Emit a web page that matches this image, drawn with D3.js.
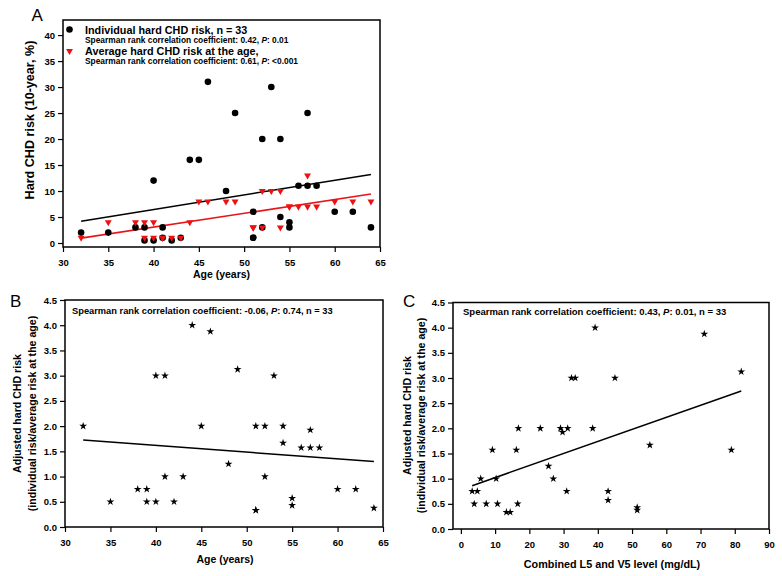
<!DOCTYPE html>
<html><head><meta charset="utf-8">
<script src="https://cdn.jsdelivr.net/npm/d3@7"></script>
<style>
body{margin:0;background:#fff}
text{font-family:"Liberation Sans",Arial,sans-serif}
</style>
</head><body>
<svg id="chart" width="782" height="576"></svg>
<script>
// ---- data (one entry per subject, n = 33) ----
const ages    = [32,35,38,39,39,40,40,41,41,42,43,44,45,46,48,49,51,51,51,52,52,53,54,54,55,55,56,57,57,58,60,62,64];
const risk    = [2,2,3,3,0.5,12,0.5,3,1,0.5,1,16,16,31,10,25,6,1,1,20,3,30,20,5,4,3,11,25,11,11,6,6,3];
const avgRisk = [1,4,4,4,1,4,1,1,1,1,1,4,8,8,8,8,3,3,3,10,3,10,10,3,7,7,7,13,7,7,8,8,8];
const l5v5    = [16.8,3.9,3.3,4.8,7.4,32.3,10.7,33.4,5.8,16.6,10.3,39.2,23.2,71.1,25.6,81.9,29.1,13.3,14.4,31.2,27.0,45.0,38.5,55.2,43.0,51.5,9.2,29.7,16.2,79.0,30.9,43.0,51.5];
const adjusted = risk.map((r,i)=> r/avgRisk[i]);

const ticksAX = [30,35,40,45,50,55,60,65];
const ticksAY = [0,5,10,15,20,25,30,35,40];
const ticksBX = [30,35,40,45,50,55,60,65];
const ticksRatio = [0,0.5,1,1.5,2,2.5,3,3.5,4,4.5];
const ticksCX = [0,10,20,30,40,50,60,70,80,90];

const legendA = [
  {label:"Individual hard CHD risk, n = 33", stat:["Spearman rank correlation coefficient: 0.42, ","P",": 0.01"]},
  {label:"Average hard CHD risk at the age,", stat:["Spearman rank correlation coefficient: 0.61, ","P",": <0.001"]}
];
const statB = ["Spearman rank correlation coefficient: -0.06, ","P",": 0.74, n = 33"];
const statC = ["Spearman rank correlation coefficient: 0.43, ","P",": 0.01, n = 33"];

// ---- helpers ----
const svg = d3.select("#chart");
function regress(xs, ys){
  const n=xs.length, mx=d3.mean(xs), my=d3.mean(ys);
  let sxy=0,sxx=0;
  for(let i=0;i<n;i++){sxy+=(xs[i]-mx)*(ys[i]-my);sxx+=(xs[i]-mx)**2;}
  const b=sxy/sxx, a=my-b*mx;
  const x0=d3.min(xs), x1=d3.max(xs);
  return [[x0,a+b*x0],[x1,a+b*x1]];
}
function panel(o){
  const x=d3.scaleLinear().domain(o.xDom).range([o.x0,o.x1]);
  const y=d3.scaleLinear().domain(o.yDom).range([o.y1,o.y0]);
  const g=svg.append("g");
  const ax=g.append("g").attr("transform",`translate(0,${o.y1})`)
    .call(d3.axisBottom(x).tickValues(o.xt).tickSize(5).tickPadding(7).tickFormat(o.xf||d3.format("d")));
  const ay=g.append("g").attr("transform",`translate(${o.x0},0)`)
    .call(d3.axisLeft(y).tickValues(o.yt).tickSize(5).tickPadding(3).tickFormat(o.yf||d3.format("d")));
  [ax,ay].forEach(a=>{
    a.select(".domain").remove();
    a.selectAll("line").attr("stroke","#000").attr("stroke-width",1.2);
    a.selectAll("text").attr("font-size","9.5px").attr("font-weight","bold").attr("fill","#000")
      .attr("font-family","'Liberation Sans',Arial,sans-serif");
  });
  g.append("rect").attr("x",o.x0).attr("y",o.y0).attr("width",o.x1-o.x0).attr("height",o.y1-o.y0)
    .attr("fill","none").attr("stroke","#000").attr("stroke-width",1.5);
  return {x,y,g};
}
function richText(sel, parts){
  parts.forEach((p,i)=>{ const t=sel.append("tspan").text(p); if(i===1) t.attr("font-style","italic"); });
}
function hTitle(x,y,txt,size){
  svg.append("text").attr("x",x).attr("y",y).attr("text-anchor","middle")
    .attr("font-size",size+"px").attr("font-weight","bold").text(txt);
}
function vTitle(x,y,txt,size){
  svg.append("text").attr("transform",`translate(${x},${y}) rotate(-90)`).attr("text-anchor","middle")
    .attr("font-size",size+"px").attr("font-weight","bold").text(txt);
}
const line = (P)=>d3.line().x(d=>P.x(d[0])).y(d=>P.y(d[1]));

// ---- Panel A ----
const A = panel({x0:63,x1:380,y0:20,y1:247,xDom:[30,65],yDom:[-0.77,42.9],xt:ticksAX,yt:ticksAY});
const tri = d3.symbol().type(d3.symbolTriangle).size(21);
A.g.append("path").attr("d",line(A)(regress(ages,risk))).attr("stroke","#000").attr("stroke-width",1.6).attr("fill","none");
A.g.append("path").attr("d",line(A)(regress(ages,avgRisk))).attr("stroke","#e8141a").attr("stroke-width",1.6).attr("fill","none");
A.g.selectAll("circle.ind").data(ages).join("circle").attr("class","ind")
  .attr("cx",(d)=>A.x(d)).attr("cy",(d,i)=>A.y(risk[i])).attr("r",3.3).attr("fill","#000");
A.g.selectAll("path.avg").data(ages).join("path").attr("class","avg")
  .attr("d",tri).attr("transform",(d,i)=>`translate(${A.x(d)},${A.y(avgRisk[i])}) rotate(180)`).attr("fill","#ee1111");
// legend
A.g.append("circle").attr("cx",69.5).attr("cy",29.5).attr("r",3.3).attr("fill","#000");
A.g.append("path").attr("d",tri).attr("transform","translate(69.5,51) rotate(180)").attr("fill","#ee1111");
[[34,legendA[0]],[55,legendA[1]]].forEach(([by,l])=>{
  A.g.append("text").attr("x",85).attr("y",by).attr("font-size","10.8px").attr("font-weight","bold").text(l.label);
  richText(A.g.append("text").attr("x",85).attr("y",by+9).attr("font-size","8.4px").attr("font-weight","bold"), l.stat);
});
hTitle(221.5,278,"Age (years)",10.5);
vTitle(34,120,"Hard CHD risk (10-year, %)",12.6);

// ---- Panel B ----
const B = panel({x0:65,x1:383,y0:300,y1:527,xDom:[30,65],yDom:[0,4.5],xt:ticksBX,yt:ticksRatio,yf:d3.format(".1f")});
const star = d3.symbol().type(d3.symbolStar).size(19);
B.g.append("path").attr("d",line(B)(regress(ages,adjusted))).attr("stroke","#000").attr("stroke-width",1.5).attr("fill","none");
B.g.selectAll("path.st").data(ages).join("path").attr("class","st").attr("d",star)
  .attr("transform",(d,i)=>`translate(${B.x(d)},${B.y(adjusted[i])})`).attr("fill","#000");
richText(B.g.append("text").attr("x",72).attr("y",313.5).attr("font-size","9.3px").attr("font-weight","bold"), statB);
hTitle(225,563,"Age (years)",10.5);
vTitle(21,413.5,"Adjusted hard CHD risk",10.6);
vTitle(35.5,413.5,"(individual risk/average risk at the age)",10.6);

// ---- Panel C ----
const C = panel({x0:453,x1:769,y0:302.5,y1:529,xDom:[-2.3,90],yDom:[0,4.5],xt:ticksCX,yt:ticksRatio,yf:d3.format(".1f")});
C.g.append("path").attr("d",line(C)(regress(l5v5,adjusted))).attr("stroke","#000").attr("stroke-width",1.5).attr("fill","none");
C.g.selectAll("path.st").data(l5v5).join("path").attr("class","st").attr("d",star)
  .attr("transform",(d,i)=>`translate(${C.x(d)},${C.y(adjusted[i])})`).attr("fill","#000");
richText(C.g.append("text").attr("x",463).attr("y",315).attr("font-size","9.5px").attr("font-weight","bold"), statC);
hTitle(612,568,"Combined L5  and V5 level (mg/dL)",10.8);
vTitle(411,415.5,"Adjusted hard CHD risk",10.6);
vTitle(425,415.5,"(individual risk/average risk at the age)",10.6);

// ---- panel letters ----
[["A",31.5,20.7],["B",10,306.7],["C",403,306.7]].forEach(([t,x,y])=>{
  svg.append("text").attr("x",x).attr("y",y).attr("font-size","17px").attr("font-family","'Open Sans','Liberation Sans',sans-serif").text(t);
});
</script>
</body></html>
